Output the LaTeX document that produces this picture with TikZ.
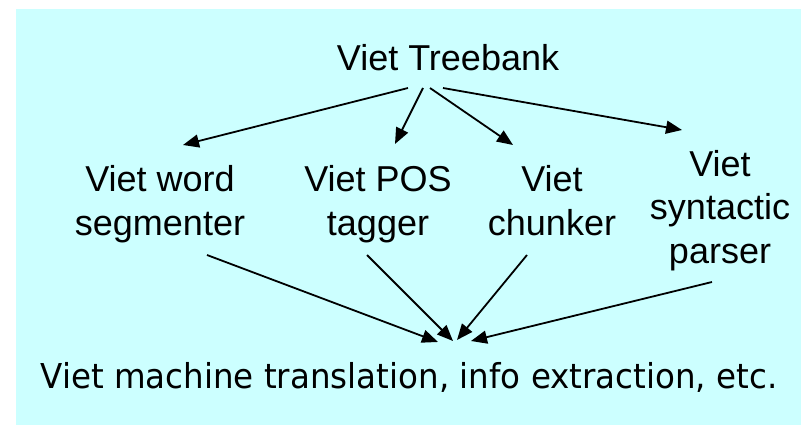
\documentclass[tikz,border=0pt]{standalone}
\usepackage{fontspec}
\setmainfont{Liberation Sans}
\newfontfamily\bottomfont{DejaVu Sans}
\usetikzlibrary{arrows.meta,calc}
\definecolor{panel}{HTML}{CCFFFF}
\begin{document}
\begin{tikzpicture}[x=1pt,y=-1pt,
  tool/.style={font=\fontsize{36}{43.5}\selectfont, align=center, inner sep=0pt, anchor=base},
  link/.style={line width=1.8pt, -{Triangle[length=16pt,width=13pt]}}]
\useasboundingbox (0,0) rectangle (801,425);
\fill[panel] (16,9) rectangle (801,425);

% source and the tools built from it (placed by the baseline of their last line)
\node[tool] (tb) at (448,71) {Viet Treebank};
\node[tool] (seg) at (160,235) {Viet word\\segmenter};
\node[tool] (pos) at (378,235) {Viet POS\\tagger};
\node[tool] (chk) at (552,235) {Viet\\chunker};
\node[tool] (par) at (720,263) {Viet\\syntactic\\parser};

% applications
\node[inner sep=0pt, anchor=base] (app) at (409,388)
  {\bottomfont\fontsize{34.3}{40}\selectfont\resizebox{737pt}{\height}{Viet machine translation, info extraction, etc.}};

% treebank to tools
\draw[link] ($(tb.base)+(-40,17)$) -- ($(seg.base)+(23,-90)$);
\draw[link] ($(tb.base)+(-25,17)$) -- ($(pos.base)+(17,-91)$);
\draw[link] ($(tb.base)+(-18,17)$) -- ($(chk.base)+(-39,-90)$);
\draw[link] ($(tb.base)+(-5,17)$) -- ($(par.base)+(-38,-133)$);

% tools to applications
\draw[link] ($(seg.base)+(47,20)$) -- ($(app.base)+(29,-46)$);
\draw[link] ($(pos.base)+(-11,20)$) -- ($(app.base)+(44,-47)$);
\draw[link] ($(chk.base)+(-25,20)$) -- ($(app.base)+(48,-48)$);
\draw[link] ($(par.base)+(-8,19)$) -- ($(app.base)+(62,-47)$);
\end{tikzpicture}
\end{document}
